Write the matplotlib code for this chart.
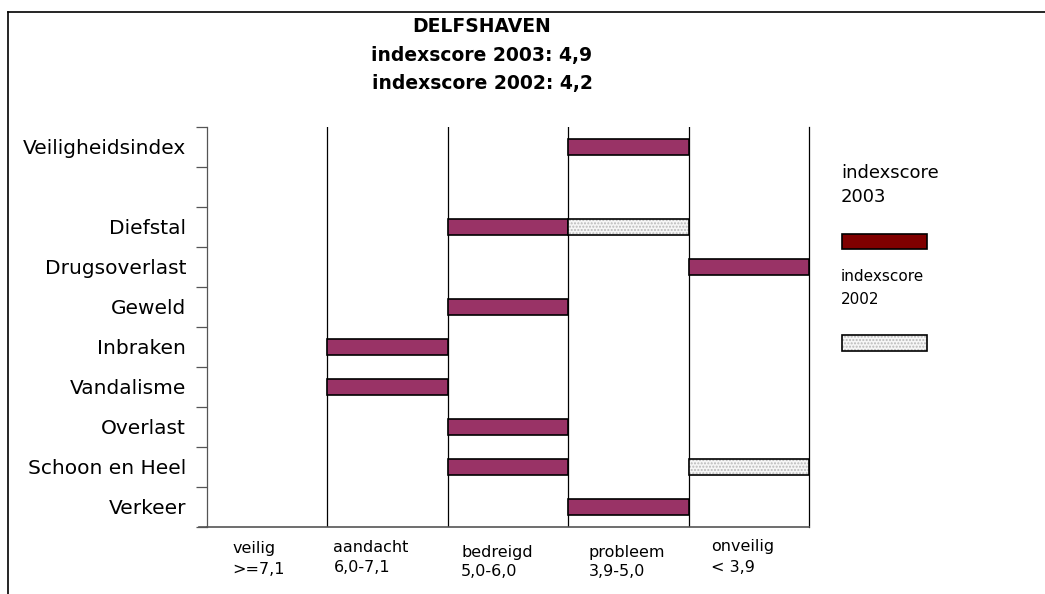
import matplotlib.pyplot as plt
from matplotlib.patches import Rectangle
from matplotlib.transforms import blended_transform_factory

# categories (top to bottom) and their y slot in the chart (slot 1 left empty)
categories = ['Veiligheidsindex', 'Diefstal', 'Drugsoverlast', 'Geweld', 'Inbraken',
              'Vandalisme', 'Overlast', 'Schoon en Heel', 'Verkeer']
slots = [0, 2, 3, 4, 5, 6, 7, 8, 9]

# class index: 0=veilig 1=aandacht 2=bedreigd 3=probleem 4=onveilig
score_2003 = [3, 2, 4, 2, 1, 1, 2, 2, 3]
score_2002 = [None, 3, None, None, None, None, None, 4, None]

class_names = ['veilig', 'aandacht', 'bedreigd', 'probleem', 'onveilig']
class_ranges = ['>=7,1', '6,0-7,1', '5,0-6,0', '3,9-5,0', '< 3,9']

title_lines = ['DELFSHAVEN', 'indexscore 2003: 4,9', 'indexscore 2002: 4,2']

plt.rcParams['font.family'] = ['DejaVu Sans']

fig = plt.figure(figsize=(10.45, 5.94), dpi=100)
W, H = 1045, 594

# outer chart frame (left and top edges visible, rest cropped)
fig.add_artist(plt.Line2D([8 / W, 8 / W], [0, 1 - 12 / H], color='black', lw=1.2))
fig.add_artist(plt.Line2D([8 / W, 1], [1 - 12 / H, 1 - 12 / H], color='black', lw=1.2))

ax = fig.add_axes([207 / W, 1 - 527 / H, 602 / W, 400 / H])

bar_h = 0.4
ys = [s + 0.5 for s in slots]
ax.barh(ys, [1] * len(ys), left=score_2003, height=bar_h,
        color='#993366', edgecolor='black', linewidth=1.2, zorder=3)

ys02 = [y for y, v in zip(ys, score_2002) if v is not None]
x02 = [v for v in score_2002 if v is not None]
ax.barh(ys02, [1] * len(ys02), left=x02, height=bar_h, color='#f6f6f6',
        edgecolor='#b8b8b8', hatch='.....', linewidth=0, zorder=3)
ax.barh(ys02, [1] * len(ys02), left=x02, height=bar_h, color='none',
        edgecolor='black', linewidth=1.2, zorder=4)

# column separators
for x in range(1, 5):
    ax.axvline(x, color='black', lw=0.9, zorder=2)

ax.set_xlim(0, 5)
ax.set_ylim(10, 0)
ax.set_xticks([])
ax.set_yticks(range(11))
ax.set_yticklabels([])
ax.set_yticks(ys, minor=True)
ax.set_yticklabels(categories, minor=True, fontsize=14.5)
ax.tick_params(axis='y', which='major', length=8, width=0.9, color='#555555', direction='out')
ax.tick_params(axis='y', which='minor', length=0, pad=15)

ax.spines['top'].set_visible(False)
ax.spines['right'].set_color('black')
ax.spines['right'].set_linewidth(0.9)
ax.spines['left'].set_color('#555555')
ax.spines['bottom'].set_color('#555555')
ax.spines['left'].set_linewidth(0.9)
ax.spines['bottom'].set_linewidth(1.2)
ax.plot([-0.07, 0], [10, 10], color='#555555', lw=1.2, clip_on=False)

# class labels below the axis
trans = blended_transform_factory(ax.transData, ax.transAxes)
offs = [0.21, 0.05, 0.11, 0.17, 0.19]
line1 = [549, 547, 552, 552, 547]
for i, (nm, rg) in enumerate(zip(class_names, class_ranges)):
    ax.text(i + offs[i], (527 - line1[i]) / 400, nm, transform=trans,
            ha='left', va='center', fontsize=11.5)
    ax.text(i + offs[i], (527 - line1[i] - 20) / 400, rg, transform=trans,
            ha='left', va='center', fontsize=11.5)

# title
for txt, yp in zip(title_lines, [27, 55, 83]):
    fig.text(482 / W, 1 - yp / H, txt, ha='center', va='center',
             fontsize=13.5, fontweight='bold')

# legend
fig.text(841 / W, 1 - 173 / H, 'indexscore', ha='left', va='center', fontsize=13)
fig.text(841 / W, 1 - 197 / H, '2003', ha='left', va='center', fontsize=13)
fig.add_artist(Rectangle((842 / W, 1 - 249 / H), 85 / W, 15 / H,
                         transform=fig.transFigure, facecolor='#800000',
                         edgecolor='black', lw=1.2))
fig.text(841 / W, 1 - 277 / H, 'indexscore', ha='left', va='center', fontsize=11)
fig.text(841 / W, 1 - 299 / H, '2002', ha='left', va='center', fontsize=11)
fig.add_artist(Rectangle((842 / W, 1 - 351 / H), 85 / W, 16 / H,
                         transform=fig.transFigure, facecolor='#f6f6f6',
                         edgecolor='#b8b8b8', hatch='.....', lw=0))
fig.add_artist(Rectangle((842 / W, 1 - 351 / H), 85 / W, 16 / H,
                         transform=fig.transFigure, facecolor='none',
                         edgecolor='black', lw=1.2))

fig.savefig('out.png', dpi=100)
